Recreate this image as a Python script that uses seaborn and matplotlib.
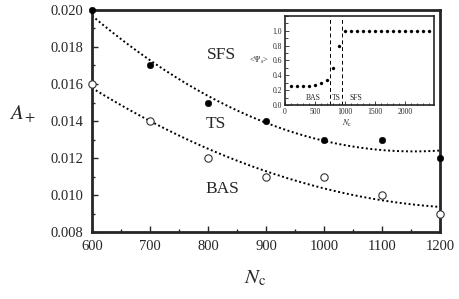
import numpy as np
import pandas as pd
import seaborn as sns
import matplotlib.pyplot as plt
from matplotlib.ticker import MultipleLocator

# main panel data
nc = [600, 700, 800, 900, 1000, 1100, 1200]
a_sfs = [0.020, 0.017, 0.015, 0.014, 0.013, 0.013, 0.012]
a_bas = [0.016, 0.014, 0.012, 0.011, 0.011, 0.010, 0.009]

# inset data
inset_nc = [100, 200, 300, 400, 500, 600, 700, 800, 900, 1000, 1100, 1200,
            1300, 1400, 1500, 1600, 1700, 1800, 1900, 2000, 2100, 2200, 2300, 2400]
psi = [0.25, 0.25, 0.25, 0.26, 0.27, 0.29, 0.33, 0.50, 0.80, 1.0, 1.0, 1.0,
       1.0, 1.0, 1.0, 1.0, 1.0, 1.0, 1.0, 1.0, 1.0, 1.0, 1.0, 1.0]
borders = [750, 950]

sns.set_style("ticks")
plt.rcParams['font.family'] = ['Liberation Serif', 'DejaVu Serif']
plt.rcParams['mathtext.fontset'] = 'stix'

df = pd.DataFrame({'Nc': nc, 'SFS': a_sfs, 'BAS': a_bas})

# quadratic fits for the boundary curves
xs = np.linspace(600, 1200, 200)
fit_up = np.polyval(np.polyfit(nc, a_sfs, 2), xs)
fit_lo = np.polyval(np.polyfit(nc, a_bas, 2), xs)

fig = plt.figure(figsize=(4.59, 2.99), dpi=100)
ax = fig.add_axes([0.2004, 0.224, 0.7582, 0.7426])

sns.lineplot(x=xs, y=fit_up, ax=ax, color='black', linestyle=(0, (1, 1.3)), lw=1.4)
sns.lineplot(x=xs, y=fit_lo, ax=ax, color='black', linestyle=(0, (1, 1.3)), lw=1.4)
sns.scatterplot(data=df, x='Nc', y='SFS', ax=ax, color='black', s=22,
                edgecolor='black', zorder=5, clip_on=False)
sns.scatterplot(data=df, x='Nc', y='BAS', ax=ax, facecolor='white', s=28,
                edgecolor='#333333', linewidth=0.8, zorder=5, clip_on=False)

ax.set_xlim(600, 1200)
ax.set_ylim(0.008, 0.020)
ax.xaxis.set_major_locator(MultipleLocator(100))
ax.xaxis.set_minor_locator(MultipleLocator(50))
ax.yaxis.set_major_locator(MultipleLocator(0.002))
ax.yaxis.set_minor_locator(MultipleLocator(0.001))
ax.yaxis.set_major_formatter(plt.FormatStrFormatter('%.3f'))
ax.tick_params(which='both', direction='in', width=1, labelsize=10.5, pad=6)
ax.tick_params(which='major', length=4)
ax.tick_params(which='minor', length=2)
for s in ax.spines.values():
    s.set_linewidth(2)

ax.set_xlabel(r'$N_\mathrm{c}$', fontsize=15)
ax.set_ylabel(r'$A_+$', fontsize=15, rotation=0)
ax.xaxis.set_label_coords(0.47, -0.165)
ax.yaxis.set_label_coords(-0.2, 0.48)

ax.text(823, 0.01758, 'SFS', fontsize=12.5, ha='center', va='center')
ax.text(813, 0.01382, 'TS', fontsize=12.5, ha='center', va='center')
ax.text(825, 0.01032, 'BAS', fontsize=12.5, ha='center', va='center')

# inset
ins = fig.add_axes([0.621, 0.649, 0.3245, 0.298])
sns.scatterplot(x=inset_nc, y=psi, ax=ins, color='black', s=5, edgecolor='black')
for b in borders:
    ins.axvline(b, color='black', lw=0.7, linestyle=(0, (4, 3)))
ins.set_xlim(0, 2480)
ins.set_ylim(0, 1.2)
ins.xaxis.set_major_locator(MultipleLocator(500))
ins.xaxis.set_minor_locator(MultipleLocator(100))
ins.yaxis.set_minor_locator(MultipleLocator(0.1))
ins.set_yticks([0, 0.2, 0.4, 0.6, 0.8, 1.0])
ins.yaxis.set_major_formatter(plt.FormatStrFormatter('%.1f'))
ins.tick_params(which='both', direction='in', labelsize=5.5, pad=2, width=0.6)
ins.tick_params(which='major', length=3)
ins.tick_params(which='minor', length=1.8)
for s in ins.spines.values():
    s.set_linewidth(1.2)
ins.set_xlabel(r'$N_\mathrm{c}$', fontsize=6, labelpad=0)
ins.xaxis.set_label_coords(0.42, -0.14)
ins.set_ylabel('')
ins.text(-0.11, 0.5, r'<$\Psi_\mathrm{s}$>', fontsize=6, ha='right', va='center',
         transform=ins.transAxes)
ins.text(470, 0.1, 'BAS', fontsize=5.5, ha='center', va='center')
ins.text(850, 0.1, 'TS', fontsize=5.5, ha='center', va='center')
ins.text(1180, 0.1, 'SFS', fontsize=5.5, ha='center', va='center')

fig.savefig('out.png', dpi=100)
